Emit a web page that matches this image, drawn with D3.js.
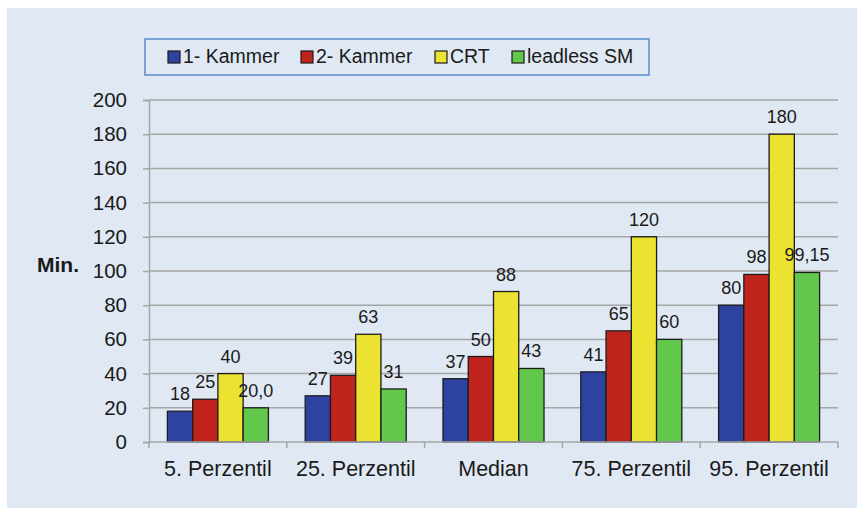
<!DOCTYPE html>
<html>
<head>
<meta charset="utf-8">
<script src="https://cdn.jsdelivr.net/npm/d3@7"></script>
<style>
  body { margin: 0; background: #fff; }
  text { font-family: "Liberation Sans", Arial, sans-serif; fill: #1a1a1a; }
</style>
</head>
<body>
<div id="chart"></div>
<script>
// Data ------------------------------------------------------------------------
const categories = ["5. Perzentil", "25. Perzentil", "Median", "75. Perzentil", "95. Perzentil"];
const seriesNames = ["1- Kammer", "2- Kammer", "CRT", "leadless SM"];
const seriesColors = ["#2e42a0", "#c0231b", "#ece232", "#62c84b"];
const einKammer = [18, 27, 37, 41, 80];
const zweiKammer = [25, 39, 50, 65, 98];
const crt = [40, 63, 88, 120, 180];
const leadless = [20.0, 31, 43, 60, 99.15];
const labels = [
  ["18", "27", "37", "41", "80"],
  ["25", "39", "50", "65", "98"],
  ["40", "63", "88", "120", "180"],
  ["20,0", "31", "43", "60", "99,15"]
];
const yTicks = [0, 20, 40, 60, 80, 100, 120, 140, 160, 180, 200];

// Setup -----------------------------------------------------------------------
const width = 857;
const height = 508;
const plot = { left: 149, right: 838, top: 100, bottom: 442 };

const svg = d3.select("#chart")
  .append("svg")
  .attr("width", width)
  .attr("height", height);

svg.append("rect")
  .attr("x", 7).attr("y", 8)
  .attr("width", width - 7).attr("height", height - 8)
  .attr("fill", "#dfe8f3");

const x = d3.scaleBand()
  .domain(categories)
  .range([plot.left, plot.right])
  .paddingInner(0.267)
  .paddingOuter(0.1335);

const xInner = d3.scaleBand()
  .domain(seriesNames)
  .range([0, x.bandwidth()]);

const y = d3.scaleLinear()
  .domain([0, 200])
  .range([plot.bottom, plot.top]);

// Gridlines -------------------------------------------------------------------
svg.append("g")
  .selectAll("line")
  .data(yTicks.slice(1))
  .join("line")
  .attr("x1", plot.left).attr("x2", plot.right)
  .attr("y1", d => y(d)).attr("y2", d => y(d))
  .attr("stroke", "#a6a6a6")
  .attr("stroke-width", 1.5);

// Y axis ----------------------------------------------------------------------
const yAxis = svg.append("g")
  .attr("transform", `translate(${plot.left},0)`)
  .call(d3.axisLeft(y).tickValues(yTicks).tickSize(6).tickPadding(16));
yAxis.select(".domain").attr("stroke", "#a6a6a6").attr("stroke-width", 1.5);
yAxis.selectAll(".tick line").attr("stroke", "#a6a6a6").attr("stroke-width", 1.5);
yAxis.selectAll(".tick text")
  .style("font-family", "'Liberation Sans', Arial, sans-serif")
  .style("font-size", "20.5px")
  .attr("fill", "#1a1a1a");

svg.append("text")
  .attr("x", 37).attr("y", 272)
  .style("font-size", "21px")
  .style("font-weight", "bold")
  .text("Min.");

// Bars ------------------------------------------------------------------------
const allSeries = [einKammer, zweiKammer, crt, leadless];
const groups = svg.append("g")
  .selectAll("g")
  .data(categories)
  .join("g")
  .attr("transform", d => `translate(${x(d)},0)`);

groups.selectAll("rect")
  .data((c, i) => allSeries.map((s, j) => ({ name: seriesNames[j], value: s[i], j: j })))
  .join("rect")
  .attr("x", d => xInner(d.name))
  .attr("y", d => y(d.value))
  .attr("width", xInner.bandwidth())
  .attr("height", d => plot.bottom - y(d.value))
  .attr("fill", d => seriesColors[d.j])
  .attr("stroke", "#1c1c1c")
  .attr("stroke-width", 1.3);

groups.selectAll("text.val")
  .data((c, i) => allSeries.map((s, j) => ({ name: seriesNames[j], value: s[i], label: labels[j][i] })))
  .join("text")
  .attr("class", "val")
  .attr("x", d => xInner(d.name) + xInner.bandwidth() / 2)
  .attr("y", d => y(d.value) - 11)
  .attr("text-anchor", "middle")
  .style("font-size", "18px")
  .text(d => d.label);

// X axis ----------------------------------------------------------------------
svg.append("line")
  .attr("x1", plot.left).attr("x2", plot.right)
  .attr("y1", plot.bottom).attr("y2", plot.bottom)
  .attr("stroke", "#a6a6a6")
  .attr("stroke-width", 1.5);

const step = x.step();
svg.append("g")
  .selectAll("line")
  .data(d3.range(categories.length + 1))
  .join("line")
  .attr("x1", i => plot.left + i * step).attr("x2", i => plot.left + i * step)
  .attr("y1", plot.bottom).attr("y2", plot.bottom + 6)
  .attr("stroke", "#a6a6a6")
  .attr("stroke-width", 1.5);

svg.append("g")
  .selectAll("text")
  .data(categories)
  .join("text")
  .attr("x", d => x(d) + x.bandwidth() / 2)
  .attr("y", 476)
  .attr("text-anchor", "middle")
  .style("font-size", "21.5px")
  .text(d => d);

// Legend ----------------------------------------------------------------------
svg.append("rect")
  .attr("x", 145).attr("y", 39)
  .attr("width", 504).attr("height", 36)
  .attr("fill", "none")
  .attr("stroke", "#5a8ccc")
  .attr("stroke-width", 1.5);

const legendX = [168, 301, 435, 512];
const legend = svg.append("g")
  .selectAll("g")
  .data(seriesNames)
  .join("g")
  .attr("transform", (d, i) => `translate(${legendX[i]},51)`);

legend.append("rect")
  .attr("width", 12).attr("height", 12)
  .attr("fill", (d, i) => seriesColors[i])
  .attr("stroke", "#1c1c1c")
  .attr("stroke-width", 1.2);

legend.append("text")
  .attr("x", 15).attr("y", 12)
  .style("font-size", "19.5px")
  .text(d => d);
</script>
</body>
</html>
